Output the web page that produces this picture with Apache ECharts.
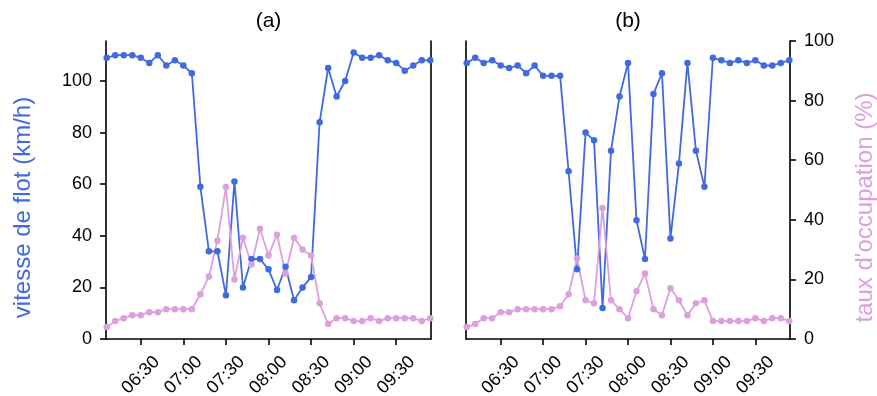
<!DOCTYPE html>
<html><head><meta charset="utf-8">
<script src="https://cdn.jsdelivr.net/npm/echarts@6/dist/echarts.min.js"></script>
<style>html,body{margin:0;padding:0;background:#fff}#c{width:877px;height:396px}</style>
</head><body><div id="c"></div>
<script>
const times = ["06:06","06:12","06:18","06:24","06:30","06:36","06:42","06:48","06:54",
  "07:00","07:06","07:12","07:18","07:24","07:30","07:36","07:42","07:48","07:54",
  "08:00","08:06","08:12","08:18","08:24","08:30","08:36","08:42","08:48","08:54",
  "09:00","09:06","09:12","09:18","09:24","09:30","09:36","09:42","09:48","09:54"];
const speedA = [109,110,110,110,109,107,110,106,108,106,103,59,34,34,17,61,20,31,31,27,19,28,15,20,24,84,105,94,100,111,109,109,110,108,107,104,106,108,108];
const occA = [4,6,7,8,8,9,9,10,10,10,10,15,21,33,51,20,34,25,37,28,35,22,34,30,28,12,5,7,7,6,6,7,6,7,7,7,7,6,7];
const speedB = [107,109,107,108,106,105,106,103,106,102,102,102,65,27,80,77,12,73,94,107,46,31,95,103,39,68,107,73,59,109,108,107,108,107,108,106,106,107,108];
const occB = [4,5,7,7,9,9,10,10,10,10,10,11,15,27,13,12,44,13,10,7,16,22,10,8,17,13,8,12,13,6,6,6,6,6,7,6,7,7,6];
const xTickLabels = ["06:30","07:00","07:30","08:00","08:30","09:00","09:30"];
const speedTicks = [0,20,40,60,80,100];
const occTicks = [0,20,40,60,80,100];
const panelTitles = ["(a)","(b)"];
const speedLabel = "vitesse de flot (km/h)";
const occLabel = "taux d'occupation (%)";

function toMin(s){const p=s.split(':').map(Number);return p[0]*60+p[1];}
function fmt(v){const h=Math.floor(v/60),m=Math.round(v-h*60);return String(h).padStart(2,'0')+':'+String(m).padStart(2,'0');}
const xs = times.map(toMin);
const pair = vals => vals.map((v,i)=>[xs[i],v]);
const xTickVals = xTickLabels.map(toMin);
const FONT = '"Liberation Sans", Arial, sans-serif';
const BLUE = '#4169E1', PINK = '#DDA0DD';
const lineSt = {color:'#000',width:1.6};

function xAxis(gi){
  return {type:'value',gridIndex:gi,min:365.5,max:594.5,
    axisLine:{show:true,onZero:false,lineStyle:lineSt},
    axisTick:{show:true,length:6,inside:false,lineStyle:lineSt,customValues:xTickVals},
    axisLabel:{show:true,customValues:xTickVals,formatter:v=>fmt(v),rotate:45,align:'center',verticalAlign:'middle',
      margin:36,fontSize:18,color:'#000',fontFamily:FONT},
    splitLine:{show:false}};
}
function yAxis(gi,pos,max,ticks,showTicks){
  return {type:'value',gridIndex:gi,position:pos,min:0,max:max,
    axisLine:{show:true,onZero:false,lineStyle:lineSt},
    axisTick:{show:showTicks,length:6,lineStyle:lineSt,customValues:ticks},
    axisLabel:{show:showTicks,customValues:ticks,margin:14,fontSize:18,color:'#000',fontFamily:FONT},
    splitLine:{show:false}};
}
function ser(vals,color,xi,yi){
  return {type:'line',xAxisIndex:xi,yAxisIndex:yi,data:pair(vals),symbol:'circle',symbolSize:6.5,
    showAllSymbol:true,lineStyle:{color:color,width:1.8},itemStyle:{color:color,borderWidth:0},
    emphasis:{disabled:true},silent:true};
}
const chart = echarts.init(document.getElementById('c'),null,{renderer:'canvas'});
chart.setOption({
  animation:false,
  backgroundColor:'#fff',
  grid:[{left:106,top:41,width:325,height:298,outerBoundsMode:'none'},
        {left:466,top:41,width:324,height:298,outerBoundsMode:'none'}],
  xAxis:[xAxis(0),xAxis(1)],
  yAxis:[yAxis(0,'left',115.5,speedTicks,true),yAxis(0,'right',100,occTicks,false),
         yAxis(1,'left',115.5,speedTicks,false),yAxis(1,'right',100,occTicks,true)],
  series:[ser(speedA,BLUE,0,0),ser(speedB,BLUE,1,2),ser(occA,PINK,0,1),ser(occB,PINK,1,3)],
  graphic:[
    {type:'text',x:268.5,y:21,style:{text:panelTitles[0],fontSize:21,fontFamily:FONT,fill:'#000',textAlign:'center',textVerticalAlign:'middle',align:'center',verticalAlign:'middle'}},
    {type:'text',x:628,y:21,style:{text:panelTitles[1],fontSize:21,fontFamily:FONT,fill:'#000',textAlign:'center',textVerticalAlign:'middle',align:'center',verticalAlign:'middle'}},
    {type:'text',x:23,y:207.5,rotation:Math.PI/2,style:{text:speedLabel,fontSize:24,fontFamily:FONT,fill:BLUE,textAlign:'center',textVerticalAlign:'middle',align:'center',verticalAlign:'middle'}},
    {type:'text',x:865,y:207.5,rotation:Math.PI/2,style:{text:occLabel,fontSize:24,fontFamily:FONT,fill:PINK,textAlign:'center',textVerticalAlign:'middle',align:'center',verticalAlign:'middle'}}
  ]
});
</script></body></html>
